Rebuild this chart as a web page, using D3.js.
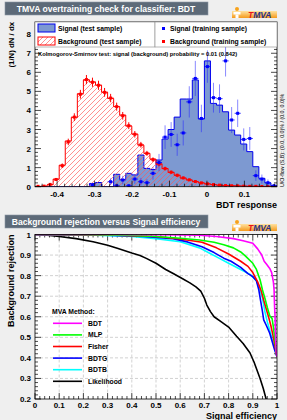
<!DOCTYPE html>
<html>
<head>
<meta charset="utf-8">
<script src="https://cdn.jsdelivr.net/npm/d3@7"></script>
<style>
body { margin:0; background:#efefef; }
svg { display:block; font-family:"Liberation Sans", Arial, sans-serif; }
</style>
</head>
<body>
<div id="graph"></div>
<script>

// binning of the BDT output histograms
var xMin = -0.459, xMax = 0.187, nBins = 40;

// (1/N) dN/dx per bin, test samples
var sigTest = [0,0,0,0,0,0,0,0,0,0.17, 0.22,0,0,0.65,0.38,0.7,0.62,1.66,0.96,0.9,
               1.4,2.5,3.0,3.65,4.6,4.6,5.6,3.55,6.6,4.37, 4.28,3.93,2.97,2.71,2.24,1.84,1.05,0.44,0.2,0.05];
var bkgTest = [0,0.02,0.1,0.4,1.13,2.4,3.64,4.88,5.6,5.5, 5.33,4.96,4.63,4.2,3.76,3.18,2.76,2.18,1.75,1.45,
               1.2,0.95,0.75,0.6,0.45,0.35,0.27,0.2,0.15,0.11, 0.08,0.06,0.05,0.04,0.03,0.02,0.02,0.01,0.01,0];

// training samples (null = empty bin)
var sigTrain = [null,null,null,null,null,null,null,null,null,0.09, null,null,0.26,0.05,0.35,0.05,0.4,0.26,0.21,0.7,
                1.27,2.6,2.74,2.2,2.82,4.45,5.68,3.58,6.3,4.67, 4.62,6.6,3.5,3.85,2.48,2.53,0.58,0.4,0.21,0.05];
var sigTrainErr = [0,0,0,0,0,0,0,0,0,0.09, 0,0,0.18,0.08,0.22,0.08,0.25,0.2,0.18,0.33,
                   0.45,0.62,0.65,0.58,0.66,0.82,0.92,0.72,0.85,0.78, 0.75,0.82,0.68,0.72,0.58,0.6,0.28,0.24,0.17,0.08];
var bkgTrain = [0.02,0.03,0.12,0.38,1.1,2.35,3.65,4.85,5.62,5.48, 5.32,4.95,4.65,4.2,3.72,3.2,2.75,2.2,1.75,1.42,
                1.18,0.95,0.76,0.6,0.46,0.36,0.27,0.2,0.15,0.11, 0.08,0.06,0.05,0.04,0.03,0.02,0.02,0.01,0.01,0.01];
var bkgTrainErr = [0.02,0.02,0.04,0.07,0.12,0.17,0.2,0.23,0.24,0.24, 0.24,0.23,0.22,0.21,0.2,0.18,0.17,0.15,0.13,0.12,
                   0.11,0.1,0.09,0.08,0.07,0.06,0.05,0.05,0.04,0.03, 0.03,0.03,0.02,0.02,0.02,0.02,0.02,0.01,0.01,0.01];

var topXTicks = [-0.4,-0.3,-0.2,-0.1,0,0.1];
var topYTicks = [0,1,2,3,4,5,6,7,8];

// ROC curves: [signal efficiency, background rejection]
var bdtRoc = [[0,1],[0.3,1],[0.5,0.999],[0.6,0.998],[0.68,0.996],[0.75,0.99],[0.82,0.98],[0.86,0.97],[0.9,0.957],
              [0.92,0.93],[0.937,0.9],[0.947,0.87],[0.957,0.855],[0.97,0.835],[0.978,0.815],[0.985,0.77],[0.988,0.73],
              [0.99,0.65],[0.992,0.6],[0.994,0.5],[0.997,0.43],[1.0,0.405]];
var mlpRoc = [[0,1],[0.2,0.999],[0.4,0.995],[0.5,0.99],[0.6,0.982],[0.68,0.973],[0.74,0.962],[0.78,0.95],[0.82,0.935],
              [0.85,0.915],[0.87,0.895],[0.9,0.86],[0.915,0.83],[0.93,0.78],[0.94,0.73],[0.95,0.69],[0.96,0.645],
              [0.97,0.605],[0.98,0.59],[0.985,0.55],[0.99,0.5],[0.995,0.45],[1.0,0.405]];
var fisherRoc = [[0,1],[0.3,0.998],[0.5,0.99],[0.6,0.978],[0.69,0.962],[0.75,0.935],[0.8,0.905],[0.85,0.87],[0.88,0.845],
                 [0.9,0.815],[0.92,0.77],[0.935,0.725],[0.945,0.68],[0.955,0.64],[0.965,0.6],[0.975,0.555],[0.985,0.5],
                 [0.992,0.455],[1.0,0.405]];
var bdtgRoc = [[0,1],[0.3,0.997],[0.45,0.99],[0.57,0.98],[0.63,0.964],[0.69,0.94],[0.74,0.912],[0.78,0.885],[0.81,0.87],
               [0.85,0.84],[0.88,0.81],[0.9,0.795],[0.915,0.775],[0.925,0.73],[0.932,0.68],[0.94,0.625],[0.945,0.585],
               [0.957,0.555],[0.97,0.52],[0.98,0.48],[0.99,0.44],[1.0,0.405]];
var bdtbRoc = [[0,1],[0.25,0.997],[0.4,0.99],[0.5,0.98],[0.6,0.965],[0.68,0.935],[0.72,0.91],[0.76,0.885],[0.8,0.86],
               [0.85,0.83],[0.89,0.805],[0.915,0.775],[0.93,0.73],[0.94,0.69],[0.95,0.625],[0.96,0.575],[0.97,0.535],
               [0.98,0.49],[0.99,0.45],[1.0,0.405]];
var likelihoodRoc = [[0,1],[0.05,0.997],[0.1,0.99],[0.17,0.98],[0.24,0.965],[0.3,0.948],[0.34,0.933],[0.4,0.91],
                     [0.434,0.898],[0.46,0.884],[0.5,0.86],[0.54,0.83],[0.571,0.81],[0.61,0.785],[0.64,0.765],
                     [0.665,0.745],[0.685,0.725],[0.7,0.69],[0.71,0.657],[0.725,0.625],[0.74,0.6],[0.77,0.575],
                     [0.8,0.55],[0.833,0.505],[0.86,0.47],[0.888,0.425],[0.905,0.38],[0.916,0.345],[0.93,0.3],
                     [0.943,0.252],[0.955,0.2],[0.96,0.18]];

var methods = ["BDT","MLP","Fisher","BDTG","BDTB","Likelihood"];
var methodColors = ["#ff00ff","#00ff00","#ff0000","#0000ff","#00ffff","#000000"];
var rocCurves = [bdtRoc, mlpRoc, fisherRoc, bdtgRoc, bdtbRoc, likelihoodRoc];

var rocXTicks = [0,0.1,0.2,0.3,0.4,0.5,0.6,0.7,0.8,0.9,1];
var rocYTicks = [0.2,0.3,0.4,0.5,0.6,0.7,0.8,0.9,1];

var width = 287, height = 420;
var fmt = function(d){ return Math.abs(d) < 1e-9 ? "0" : (d < 0 ? "-" : "") + String(+Math.abs(d).toFixed(1)); };

var svg = d3.select("#graph").append("svg")
    .attr("width", width)
    .attr("height", height);

svg.append("rect").attr("width", width).attr("height", height).attr("fill", "#efefef");

var defs = svg.append("defs");
var hatch = defs.append("pattern")
    .attr("id", "hatch")
    .attr("patternUnits", "userSpaceOnUse")
    .attr("width", 5).attr("height", 5);
hatch.append("path")
    .attr("d", "M-1,1 l2,-2 M0,5 l5,-5 M4,6 l2,-2")
    .attr("stroke", "#ff5555").attr("stroke-width", 0.65);

var logoGrad = defs.append("linearGradient").attr("id", "logoGrad").attr("x1", 0).attr("y1", 0).attr("x2", 0).attr("y2", 1);
logoGrad.append("stop").attr("offset", "0%").attr("stop-color", "#ffe2a0");
logoGrad.append("stop").attr("offset", "100%").attr("stop-color", "#f59a1c");

function titleBox(y, txt) {
  svg.append("rect")
     .attr("x", 5).attr("y", y)
     .attr("width", 203).attr("height", 13)
     .attr("fill", "#5d6a78").attr("stroke", "#8a96a3").attr("stroke-width", 0.6);
  svg.append("text")
     .attr("x", 106).attr("y", y + 10)
     .attr("text-anchor", "middle")
     .attr("fill", "#ffffff")
     .attr("font-weight", "bold")
     .attr("font-size", "8.6px")
     .text(txt);
}

function logo(y) {
  var g = svg.append("g").attr("transform", "translate(232," + y + ")");
  g.append("rect").attr("x", 0).attr("y", 4).attr("width", 45).attr("height", 7).attr("fill", "url(#logoGrad)");
  g.append("circle").attr("cx", 5).attr("cy", 2).attr("r", 2).attr("fill", "#f7a21b");
  g.append("rect").attr("x", 1.5).attr("y", 5).attr("width", 7).attr("height", 2.5).attr("fill", "#ffffff");
  g.append("rect").attr("x", 3.5).attr("y", 7.5).attr("width", 3).attr("height", 3.5).attr("fill", "#ffffff");
  var t = g.append("text").attr("x", 16).attr("y", 10.5)
     .attr("font-size", "8.5px").attr("font-weight", "bold").attr("font-style", "italic");
  t.append("tspan").attr("fill", "#e8151b").text("T");
  t.append("tspan").attr("fill", "#27318a").text("MVA");
}

function ticks(g, x, y, xMajor, xMinor, yMajor, yMinor, showTop) {
  var x0 = x.range()[0], x1 = x.range()[1], y0 = y.range()[0], y1 = y.range()[1];
  var segs = [];
  xMajor.forEach(function(v){ segs.push([x(v), y0, x(v), y0 - 6]); if (showTop) segs.push([x(v), y1, x(v), y1 + 6]); });
  xMinor.forEach(function(v){ segs.push([x(v), y0, x(v), y0 - 3]); if (showTop) segs.push([x(v), y1, x(v), y1 + 3]); });
  yMajor.forEach(function(v){ segs.push([x0, y(v), x0 + 6, y(v)]); segs.push([x1, y(v), x1 - 6, y(v)]); });
  yMinor.forEach(function(v){ segs.push([x0, y(v), x0 + 3, y(v)]); segs.push([x1, y(v), x1 - 3, y(v)]); });
  g.selectAll(null).data(segs).enter().append("line")
    .attr("x1", d => d[0]).attr("y1", d => d[1]).attr("x2", d => d[2]).attr("y2", d => d[3])
    .attr("stroke", "#000").attr("stroke-width", 0.7);
}

// ---------------- top: overtraining check ----------------
titleBox(2, "TMVA overtraining check for classifier: BDT");
logo(7);

var tx = d3.scaleLinear().domain([xMin, xMax]).range([35, 277]);
var ty = d3.scaleLinear().domain([0, 8.64]).range([186.7, 22]);
var bw = (xMax - xMin) / nBins;

defs.append("clipPath").attr("id", "topClip")
  .append("rect").attr("x", 35).attr("y", 22).attr("width", 242).attr("height", 164.7);

svg.append("rect").attr("x", 35).attr("y", 22).attr("width", 242).attr("height", 164.7).attr("fill", "#fff");

function stepPts(vals) {
  var pts = [[tx(xMin), ty(0)]];
  vals.forEach(function(v, i) {
    var lo = xMin + i * bw;
    pts.push([tx(lo), ty(v)], [tx(lo + bw), ty(v)]);
  });
  pts.push([tx(xMax), ty(0)]);
  return pts;
}
var line = d3.line();
var histG = svg.append("g").attr("clip-path", "url(#topClip)");

histG.append("path").attr("d", line(stepPts(sigTest)))
   .attr("fill", "#7d99d1").attr("stroke", "#0000ee").attr("stroke-width", 1);
histG.append("path").attr("d", line(stepPts(bkgTest)))
   .attr("fill", "url(#hatch)").attr("stroke", "#ff0000").attr("stroke-width", 1);

var tXMinor = d3.range(-0.44, 0.19, 0.02).filter(v => Math.abs(Math.round(v * 10) - v * 10) > 0.01);
var tYMinor = d3.range(0.2, 8.6, 0.2).filter(v => Math.abs(Math.round(v) - v) > 0.01);
ticks(svg.append("g"), tx, ty, topXTicks, tXMinor, topYTicks, tYMinor, false);

// training points with error bars
function points(vals, errs, color, lineColor) {
  var d = [];
  vals.forEach(function(v, i){ if (v !== null) d.push({c: xMin + (i + 0.5) * bw, lo: xMin + i * bw, v: v, e: errs[i]}); });
  var g = histG.append("g");
  g.selectAll(".ev").data(d).enter().append("line")
    .attr("x1", p => tx(p.c)).attr("x2", p => tx(p.c))
    .attr("y1", p => ty(p.v - p.e)).attr("y2", p => ty(p.v + p.e))
    .attr("stroke", lineColor).attr("stroke-width", 1);
  g.selectAll(".eh").data(d).enter().append("line")
    .attr("x1", p => tx(p.lo)).attr("x2", p => tx(p.lo + bw))
    .attr("y1", p => ty(p.v)).attr("y2", p => ty(p.v))
    .attr("stroke", color).attr("stroke-width", 0.8);
  g.selectAll("rect").data(d).enter().append("rect")
    .attr("x", p => tx(p.c) - 1.5).attr("y", p => ty(p.v) - 1.5)
    .attr("width", 3).attr("height", 3)
    .attr("fill", color);
}
points(bkgTrain, bkgTrainErr, "#ff0000", "#ff0000");
points(sigTrain, sigTrainErr, "#0000ff", "rgba(40,40,255,0.55)");

svg.append("rect").attr("x", 35).attr("y", 22).attr("width", 242).attr("height", 164.7)
   .attr("fill", "none").attr("stroke", "#000").attr("stroke-width", 0.8);

svg.append("g").selectAll("text").data(topXTicks).enter().append("text")
   .attr("x", d => tx(d)).attr("y", 196.5)
   .attr("text-anchor", "middle").attr("font-size", "8px").attr("font-weight", "bold")
   .text(fmt);
svg.append("g").selectAll("text").data(topYTicks).enter().append("text")
   .attr("x", 31).attr("y", d => ty(d) + 3)
   .attr("text-anchor", "end").attr("font-size", "8px").attr("font-weight", "bold")
   .text(fmt);

// legend
var leg = svg.append("g").attr("font-size", "6.8px").attr("font-weight", "bold");
leg.append("rect").attr("x", 35).attr("y", 22).attr("width", 120).attr("height", 25)
   .attr("fill", "#fff").attr("stroke", "#888").attr("stroke-width", 0.6);
leg.append("rect").attr("x", 155).attr("y", 22).attr("width", 122).attr("height", 25)
   .attr("fill", "#fff").attr("stroke", "#888").attr("stroke-width", 0.6);
leg.append("rect").attr("x", 38).attr("y", 24).attr("width", 17).attr("height", 8)
   .attr("fill", "#7d99d1").attr("stroke", "#0000ee");
leg.append("rect").attr("x", 38).attr("y", 37).attr("width", 17).attr("height", 8)
   .attr("fill", "url(#hatch)").attr("stroke", "#ff0000");
leg.append("text").attr("x", 58).attr("y", 31).text("Signal (test sample)");
leg.append("text").attr("x", 58).attr("y", 44).text("Background (test sample)");
leg.append("rect").attr("x", 162).attr("y", 27).attr("width", 3).attr("height", 3).attr("fill", "#0000ff");
leg.append("rect").attr("x", 162).attr("y", 40).attr("width", 3).attr("height", 3).attr("fill", "#ff0000");
leg.append("text").attr("x", 170).attr("y", 31).text("Signal (training sample)");
leg.append("text").attr("x", 170).attr("y", 44).text("Background (training sample)");

svg.append("text").attr("x", 38).attr("y", 56)
   .attr("font-size", "5.8px").attr("font-weight", "bold")
   .text("Kolmogorov-Smirnov test: signal (background) probability =  0.01 (0.842)");

svg.append("text")
   .attr("transform", "translate(14,22) rotate(-90)")
   .attr("text-anchor", "end").attr("font-size", "7.8px").attr("font-weight", "bold")
   .text("(1/N) dN / dx");
svg.append("text").attr("x", 277).attr("y", 208)
   .attr("text-anchor", "end").attr("font-size", "9px").attr("font-weight", "bold")
   .text("BDT response");
svg.append("text")
   .attr("transform", "translate(284,187) rotate(-90)")
   .attr("font-size", "5.3px")
   .text("U/O-flow (S,B): (0.0, 0.0)% / (0.0, 0.0)%");

// ---------------- bottom: ROC curves ----------------
titleBox(215, "Background rejection versus Signal efficiency");
logo(220);

var rx = d3.scaleLinear().domain([0, 1]).range([35, 277]);
var ry = d3.scaleLinear().domain([0.2, 1]).range([399, 234.5]);

defs.append("clipPath").attr("id", "rocClip")
  .append("rect").attr("x", 35).attr("y", 234.5).attr("width", 242).attr("height", 164.5);

svg.append("rect").attr("x", 35).attr("y", 234.5).attr("width", 242).attr("height", 164.5).attr("fill", "#fff");

var grid = svg.append("g").attr("stroke", "#b4b4b4").attr("stroke-width", 0.6).attr("stroke-dasharray", "3,2");
grid.selectAll(".gx").data(rocXTicks.slice(1, -1)).enter().append("line")
    .attr("x1", d => rx(d)).attr("x2", d => rx(d)).attr("y1", 234.5).attr("y2", 399);
grid.selectAll(".gy").data(rocYTicks.slice(1, -1)).enter().append("line")
    .attr("y1", d => ry(d)).attr("y2", d => ry(d)).attr("x1", 35).attr("x2", 277);

var rXMinor = d3.range(0.02, 1, 0.02).filter(v => Math.abs(Math.round(v * 10) - v * 10) > 0.01);
var rYMinor = d3.range(0.22, 1, 0.02).filter(v => Math.abs(Math.round(v * 10) - v * 10) > 0.01);
ticks(svg.append("g"), rx, ry, rocXTicks, rXMinor, rocYTicks, rYMinor, true);

var rocLine = d3.line().x(d => rx(d[0])).y(d => ry(d[1]));
var curves = svg.append("g").attr("clip-path", "url(#rocClip)");
rocCurves.slice().reverse().forEach(function(c, i) {
  var k = rocCurves.length - 1 - i;
  curves.append("path").attr("d", rocLine(c))
    .attr("fill", "none").attr("stroke", methodColors[k]).attr("stroke-width", 1.6)
    .attr("stroke-linejoin", "round");
});

svg.append("rect").attr("x", 35).attr("y", 234.5).attr("width", 242).attr("height", 164.5)
   .attr("fill", "none").attr("stroke", "#000").attr("stroke-width", 0.8);

svg.append("g").selectAll("text").data(rocXTicks).enter().append("text")
   .attr("x", d => rx(d)).attr("y", 408)
   .attr("text-anchor", "middle").attr("font-size", "8px").attr("font-weight", "bold")
   .text(fmt);
svg.append("g").selectAll("text").data(rocYTicks).enter().append("text")
   .attr("x", 31).attr("y", d => ry(d) + 3)
   .attr("text-anchor", "end").attr("font-size", "8px").attr("font-weight", "bold")
   .text(fmt);

var rleg = svg.append("g").attr("font-size", "6.8px").attr("font-weight", "bold");
rleg.append("text").attr("x", 52).attr("y", 314).text("MVA Method:");
methods.forEach(function(m, i) {
  var yy = 323.3 + i * 11.6;
  rleg.append("line").attr("x1", 53).attr("x2", 82).attr("y1", yy).attr("y2", yy)
      .attr("stroke", methodColors[i]).attr("stroke-width", 1.6);
  rleg.append("text").attr("x", 88).attr("y", yy + 2.5).text(m);
});

svg.append("text")
   .attr("transform", "translate(14,234.5) rotate(-90)")
   .attr("text-anchor", "end").attr("font-size", "9px").attr("font-weight", "bold")
   .text("Background rejection");
svg.append("text").attr("x", 277).attr("y", 419)
   .attr("text-anchor", "end").attr("font-size", "9px").attr("font-weight", "bold")
   .text("Signal efficiency");

</script>
</body>
</html>
